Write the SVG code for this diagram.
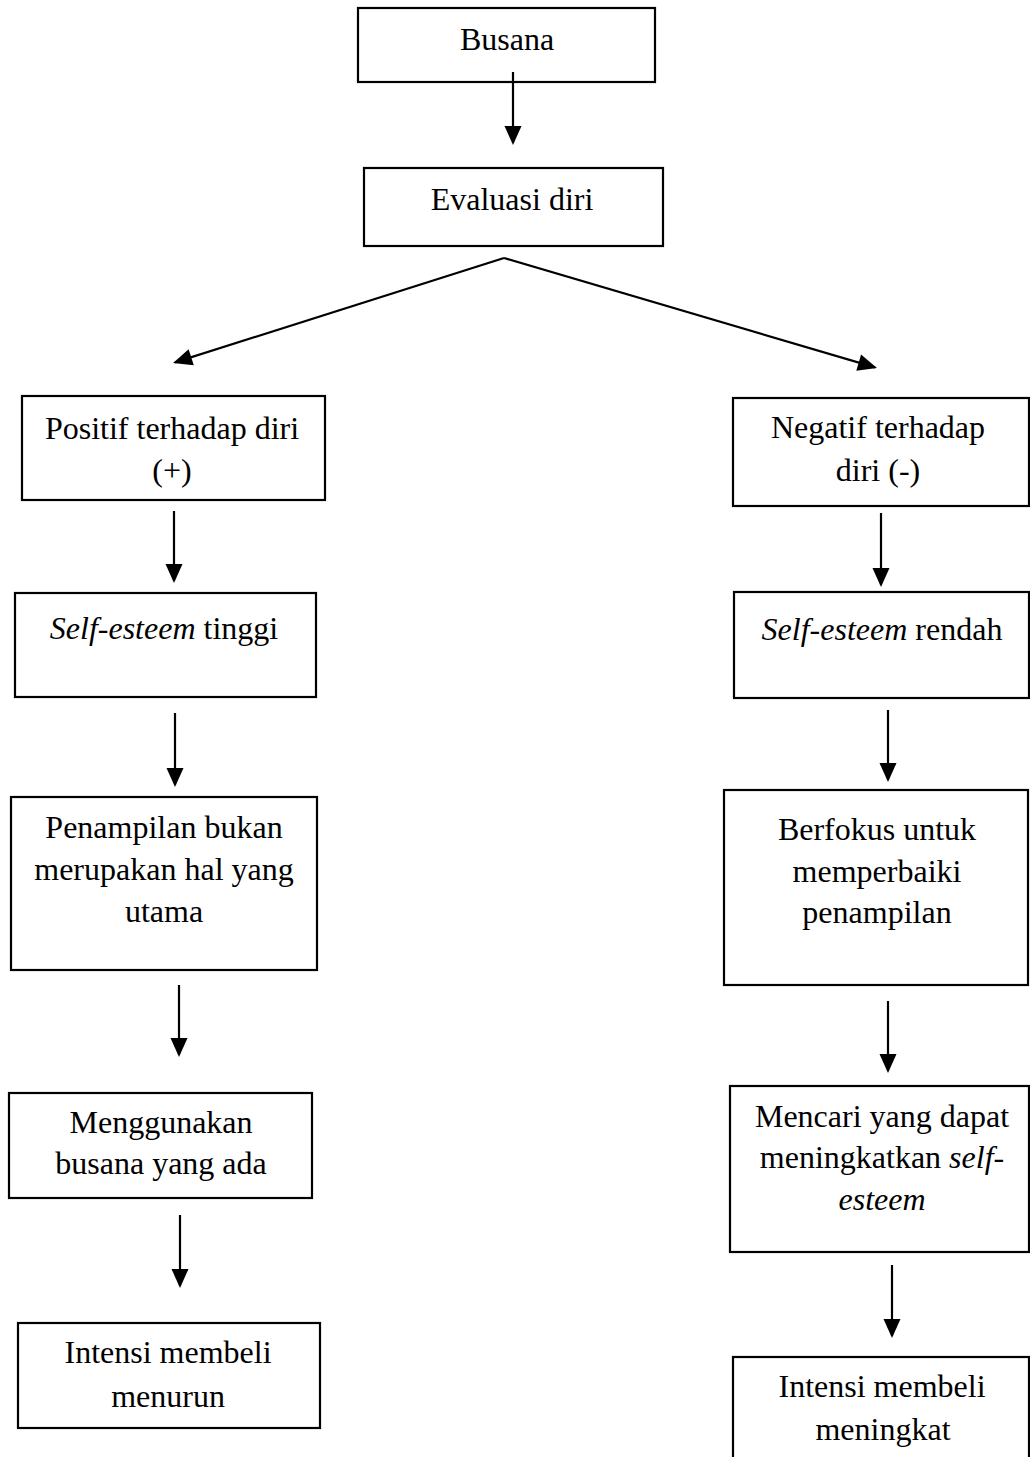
<svg xmlns="http://www.w3.org/2000/svg" width="1030" height="1457" viewBox="0 0 1030 1457">
<style>
.box{fill:#fff;stroke:#000;stroke-width:2.2}
.t{font-family:"Liberation Serif","Times New Roman",serif;font-size:32px;fill:#000;text-anchor:middle}
.i{font-style:italic}
.c{stroke:#000;stroke-width:2.2;fill:none;marker-end:url(#ah)}
</style>
<defs>
<marker id="ah" markerUnits="userSpaceOnUse" markerWidth="20" markerHeight="18" refX="17" refY="8.5" orient="auto" overflow="visible">
<path d="M0,0 L19,8.5 L0,17 z" fill="#000"/>
</marker>
</defs>
<rect width="1030" height="1457" fill="#fff"/>
<g id="n-busana"><rect class="box" x="358" y="8" width="297" height="74"/><text class="t" x="507" y="50">Busana</text></g>
<g id="n-evaluasi"><rect class="box" x="364" y="168" width="299" height="78"/><text class="t" x="512" y="210">Evaluasi diri</text></g>
<g id="n-positif"><rect class="box" x="22" y="396" width="303" height="104"/><text class="t" x="172" y="439">Positif terhadap diri</text><text class="t" x="172" y="481">(+)</text></g>
<g id="n-se-tinggi"><rect class="box" x="15" y="593" width="301" height="104"/><text class="t" x="164" y="639"><tspan class="i">Self-esteem</tspan> tinggi</text></g>
<g id="n-penampilan"><rect class="box" x="11" y="797" width="306" height="173"/><text class="t" x="164" y="838">Penampilan bukan</text><text class="t" x="164" y="880">merupakan hal yang</text><text class="t" x="164" y="922">utama</text></g>
<g id="n-menggunakan"><rect class="box" x="9" y="1093" width="303" height="105"/><text class="t" x="161" y="1133">Menggunakan</text><text class="t" x="161" y="1174">busana yang ada</text></g>
<g id="n-menurun"><rect class="box" x="18" y="1323" width="302" height="105"/><text class="t" x="168" y="1363">Intensi membeli</text><text class="t" x="168" y="1407">menurun</text></g>
<g id="n-negatif"><rect class="box" x="733" y="398" width="296" height="108"/><text class="t" x="878" y="438">Negatif terhadap</text><text class="t" x="878" y="481">diri (-)</text></g>
<g id="n-se-rendah"><rect class="box" x="734" y="592" width="295" height="106"/><text class="t" x="882" y="640"><tspan class="i">Self-esteem</tspan> rendah</text></g>
<g id="n-berfokus"><rect class="box" x="724" y="790" width="304" height="195"/><text class="t" x="877" y="840">Berfokus untuk</text><text class="t" x="877" y="882">memperbaiki</text><text class="t" x="877" y="923">penampilan</text></g>
<g id="n-mencari"><rect class="box" x="730" y="1086" width="299" height="166"/><text class="t" x="882" y="1127">Mencari yang dapat</text><text class="t" x="882" y="1168">meningkatkan <tspan class="i">self-</tspan></text><text class="t" x="882" y="1210" font-style="italic">esteem</text></g>
<g id="n-meningkat"><rect class="box" x="733" y="1357" width="296" height="110"/><text class="t" x="882" y="1397">Intensi membeli</text><text class="t" x="883" y="1440">meningkat</text></g>
<g id="connectors">
<line class="c" x1="513" y1="72" x2="513" y2="143"/>
<line class="c" x1="504" y1="258" x2="175" y2="362.4"/>
<line class="c" x1="504" y1="258" x2="875" y2="367.4"/>
<line class="c" x1="174" y1="511" x2="174" y2="581"/>
<line class="c" x1="175" y1="713" x2="175" y2="785"/>
<line class="c" x1="179" y1="985" x2="179" y2="1055"/>
<line class="c" x1="180" y1="1215" x2="180" y2="1286"/>
<line class="c" x1="881" y1="513" x2="881" y2="585"/>
<line class="c" x1="888" y1="710" x2="888" y2="780"/>
<line class="c" x1="888" y1="1001" x2="888" y2="1071"/>
<line class="c" x1="892" y1="1265" x2="892" y2="1336"/>
</g>
</svg>
